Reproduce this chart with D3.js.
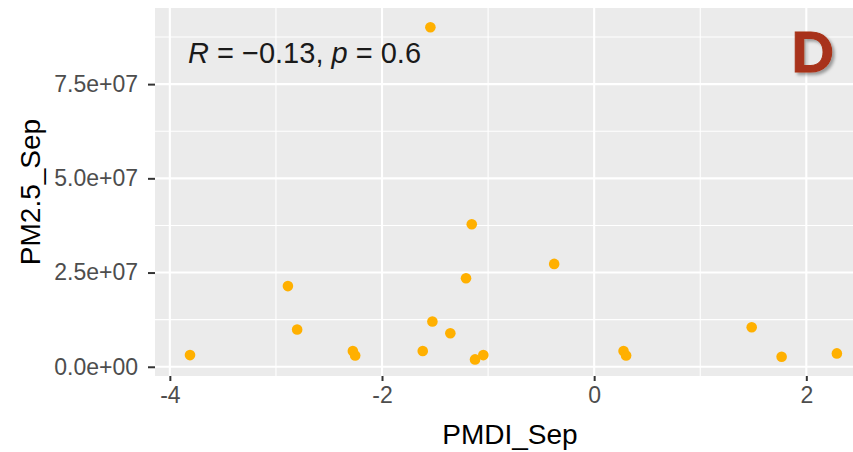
<!DOCTYPE html>
<html><head><meta charset="utf-8">
<script src="https://cdn.jsdelivr.net/npm/d3@7"></script>
<style>html,body{margin:0;padding:0;background:#fff;}</style>
</head><body><div id="chart"></div>
<script>
const pmdi = [-3.81, -2.887, -2.80, -2.275, -2.253, -1.616, -1.525, -1.356, -1.208, -1.154, -1.123, -1.045, -0.377, 0.277, 0.301, 1.485, 1.767, 2.288, -1.544];
const pm25 = [3.1e6, 2.14e7, 9.9e6, 4.2e6, 3.0e6, 4.2e6, 1.2e7, 8.9e6, 2.35e7, 3.78e7, 1.96e6, 3.1e6, 2.73e7, 4.2e6, 3.0e6, 1.05e7, 2.65e6, 3.55e6, 9.01e7];
const xTicks = [-4, -2, 0, 2];
const xTickLabels = ["-4", "-2", "0", "2"];
const xMinor = [-3, -1, 1];
const yTicks = [0, 2.5e7, 5.0e7, 7.5e7];
const yTickLabels = ["0.0e+00", "2.5e+07", "5.0e+07", "7.5e+07"];
const yMinor = [1.25e7, 3.75e7, 6.25e7, 8.75e7];
const xTitle = "PMDI_Sep";
const yTitle = "PM2.5_Sep";
const panelLabel = "D";

const W = 853, H = 452;
const L = 155, R = 853, T = 8, B = 376;
const svg = d3.select("#chart").append("svg").attr("width", W).attr("height", H)
  .style("font-family", "'Liberation Sans', Arial, sans-serif");

const x = d3.scaleLinear().domain([-4.14, 2.44]).range([L, R]);
const y = d3.scaleLinear().domain([-2.45e6, 9.52e7]).range([B, T]);

const defs = svg.append("defs");
const f = defs.append("filter").attr("id", "sh").attr("x", "-20%").attr("y", "-20%").attr("width", "150%").attr("height", "150%");
f.append("feDropShadow").attr("dx", 2.5).attr("dy", 2.5).attr("stdDeviation", 1.5).attr("flood-color", "#000").attr("flood-opacity", 0.35);

svg.append("rect").attr("x", L).attr("y", T).attr("width", R - L).attr("height", B - T).attr("fill", "#EBEBEB");

const g = svg.append("g");
g.selectAll(".xmin").data(xMinor).join("line").attr("x1", d => x(d)).attr("x2", d => x(d)).attr("y1", T).attr("y2", B).attr("stroke", "#fff").attr("stroke-width", 1.1);
g.selectAll(".ymin").data(yMinor).join("line").attr("y1", d => y(d)).attr("y2", d => y(d)).attr("x1", L).attr("x2", R).attr("stroke", "#fff").attr("stroke-width", 1.1);
g.selectAll(".xmaj").data(xTicks).join("line").attr("x1", d => x(d)).attr("x2", d => x(d)).attr("y1", T).attr("y2", B).attr("stroke", "#fff").attr("stroke-width", 2.1);
g.selectAll(".ymaj").data(yTicks).join("line").attr("y1", d => y(d)).attr("y2", d => y(d)).attr("x1", L).attr("x2", R).attr("stroke", "#fff").attr("stroke-width", 2.1);

// axes
const xAxis = d3.axisBottom(x).tickValues(xTicks).tickFormat((d, i) => xTickLabels[i]).tickSize(5).tickPadding(6);
const xa = svg.append("g").attr("transform", `translate(0,${B})`).call(xAxis);
xa.select(".domain").remove();
xa.selectAll("line").attr("stroke", "#333").attr("stroke-width", 2);
xa.selectAll("text").attr("fill", "#4D4D4D").style("font-size", "23px").style("font-family", "'Liberation Sans', Arial, sans-serif");

const yAxis = d3.axisLeft(y).tickValues(yTicks).tickFormat((d, i) => yTickLabels[i]).tickSize(7).tickPadding(10);
const ya = svg.append("g").attr("transform", `translate(${L},0)`).call(yAxis);
ya.select(".domain").remove();
ya.selectAll("line").attr("stroke", "#333").attr("stroke-width", 2);
ya.selectAll("text").attr("fill", "#4D4D4D").style("font-size", "23px").style("font-family", "'Liberation Sans', Arial, sans-serif");

// points
svg.append("g").selectAll("circle").data(pmdi.map((d, i) => [d, pm25[i]])).join("circle")
  .attr("cx", d => x(d[0])).attr("cy", d => y(d[1])).attr("r", 5.3).attr("fill", "#FFB000");

// titles
svg.append("text").attr("x", 510).attr("y", 444).attr("text-anchor", "middle").style("font-size", "28px").attr("fill", "#000").text(xTitle);
svg.append("text").attr("transform", "translate(40,192) rotate(-90)").attr("text-anchor", "middle").style("font-size", "28px").attr("fill", "#000").text(yTitle);

// annotation
const ann = svg.append("text").attr("x", 188).attr("y", 63).style("font-size", "29px").attr("fill", "#1a1a1a");
ann.append("tspan").style("font-style", "italic").text("R");
ann.append("tspan").text(" = \u22120.13, ");
ann.append("tspan").style("font-style", "italic").text("p");
ann.append("tspan").text(" = 0.6");

// panel label
svg.append("text").attr("x", 791).attr("y", 72).style("font-family", "Lato, 'Open Sans', sans-serif").style("font-weight", "900")
  .style("font-size", "56px").attr("fill", "#A8321A").attr("stroke", "#A8321A").attr("stroke-width", 1)
  .attr("filter", "url(#sh)").text(panelLabel);
</script></body></html>
